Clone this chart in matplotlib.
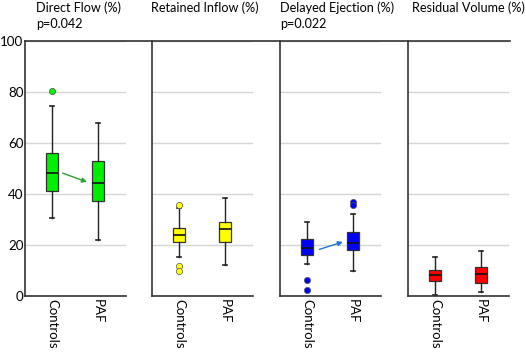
import matplotlib
matplotlib.use('Agg')
import matplotlib.pyplot as plt
from matplotlib.lines import Line2D

plt.rcParams['font.family'] = ['Lato', 'DejaVu Sans']

# five-number summaries (whislo, q1, med, q3, whishi)
groups = ['Controls', 'PAF']
titles = ['Direct Flow (%)', 'Retained Inflow (%)', 'Delayed Ejection (%)', 'Residual Volume (%)']
pvalues = ['p=0.042', None, 'p=0.022', None]
colors = ['#00ee00', '#ffff00', '#0000ff', '#ff0000']

direct_flow = [[30.6, 41.0, 48.2, 56.1, 74.4], [22.0, 37.4, 44.2, 53.1, 68.0]]
direct_flow_out = [[80.4], []]
retained = [[15.3, 21.0, 24.0, 26.8, 34.5], [12.3, 21.0, 26.1, 29.1, 38.3]]
retained_out = [[35.7, 11.8, 9.9], []]
delayed = [[12.7, 16.1, 18.8, 22.5, 29.0], [9.8, 18.2, 20.9, 25.1, 32.0]]
delayed_out = [[6.3, 2.2], [37.0, 35.6]]
residual = [[0.3, 5.9, 8.2, 10.2, 15.4], [1.7, 5.0, 8.6, 11.5, 17.6]]
residual_out = [[], []]

all_stats = [direct_flow, retained, delayed, residual]
all_out = [direct_flow_out, retained_out, delayed_out, residual_out]

# arrows: (x0, y0, x1, y1, color) per panel
arrows = [(1.23, 48.2, 1.76, 44.7, '#2ca02c'), None, (1.27, 18.3, 1.78, 21.2, '#1f77d4'), None]

W, H = 526, 352
fig = plt.figure(figsize=(W / 100, H / 100), dpi=100)

lefts = [25, 152, 280, 408]
title_x = [36, 151, 280, 412]
pw = 101
bottom = 296
top = 41

for i in range(4):
    ax = fig.add_axes([lefts[i] / W, (H - bottom) / H, pw / W, (bottom - top) / H])
    stats = []
    for j, g in enumerate(groups):
        lo, q1, med, q3, hi = all_stats[i][j]
        stats.append(dict(whislo=lo, q1=q1, med=med, q3=q3, whishi=hi,
                          fliers=all_out[i][j], label=g))
    ax.bxp(stats, positions=[1, 2], widths=0.26, patch_artist=True,
           boxprops=dict(facecolor=colors[i], edgecolor='#333333', linewidth=0.9),
           medianprops=dict(color='#111111', linewidth=1.2),
           whiskerprops=dict(color='#222222', linewidth=1.0),
           capprops=dict(color='#222222', linewidth=1.2),
           capwidths=0.1,
           flierprops=dict(marker='o', markerfacecolor=colors[i], markeredgecolor='#555555',
                           markeredgewidth=0.5, markersize=4.5))
    ax.set_xlim(0.41, 2.61)
    ax.set_ylim(0, 100)
    ax.set_yticks([0, 20, 40, 60, 80, 100])
    ax.yaxis.grid(True, color='#d6d6d6', linewidth=1.0)
    ax.set_axisbelow(True)
    for s in ['top', 'right']:
        ax.spines[s].set_visible(False)
    ax.spines['left'].set_color('#333333')
    ax.spines['bottom'].set_color('#333333')
    ax.spines['left'].set_linewidth(1.2)
    ax.spines['bottom'].set_linewidth(1.2)
    ax.tick_params(axis='x', length=0, pad=2.5)
    ax.tick_params(axis='y', length=0, pad=1)
    ax.set_xticks([1, 2])
    ax.set_xticklabels(groups, rotation=-90, fontsize=9.5, va='top', ha='center')
    if i == 0:
        ax.set_yticklabels([str(v) for v in [0, 20, 40, 60, 80, 100]], fontsize=9.6)
    else:
        ax.set_yticklabels([])
    if arrows[i] is not None:
        x0, y0, x1, y1, c = arrows[i]
        ax.annotate('', xy=(x1, y1), xytext=(x0, y0),
                    arrowprops=dict(arrowstyle='-|>', color=c, lw=1.0,
                                    mutation_scale=7, shrinkA=0, shrinkB=0))
    fig.text(title_x[i] / W, 1 - 8 / H, titles[i], fontsize=9.1, ha='left', va='center')
    if pvalues[i]:
        fig.text(title_x[i] / W, 1 - 24.5 / H, pvalues[i], fontsize=9.1, ha='left', va='center')

fig.add_artist(Line2D([25 / W, 510 / W], [(H - top) / H] * 2, color='#333333', linewidth=1.2))

fig.savefig('out.png', dpi=100)
